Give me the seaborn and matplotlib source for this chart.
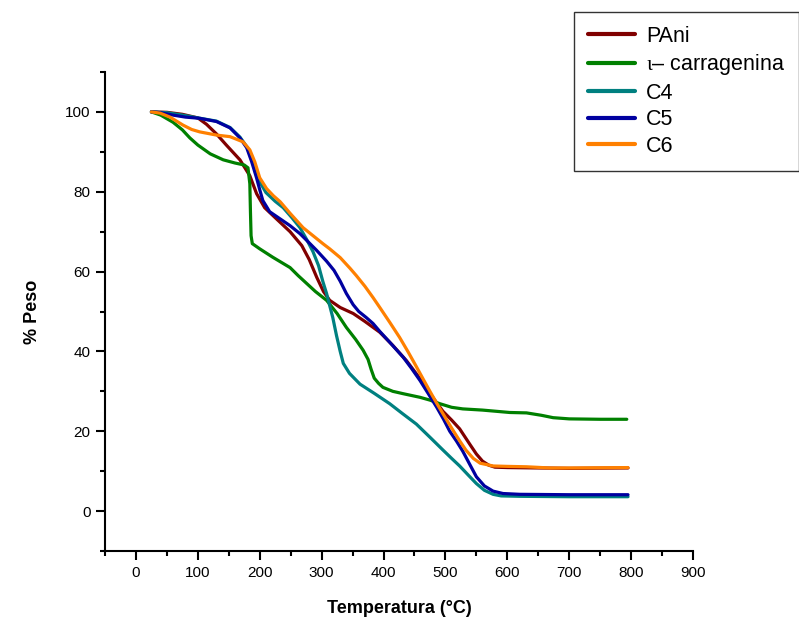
import numpy as np
import pandas as pd
import matplotlib
matplotlib.use("Agg")
import matplotlib.pyplot as plt
from matplotlib.ticker import MultipleLocator
import seaborn as sns

# Thermogravimetric curves: temperature (°C) vs remaining weight (%)
pani_t = [25, 50, 75, 100, 114, 130, 146, 168, 184, 195, 208, 225, 249, 268, 280, 292,
          303, 313, 330, 351, 370, 394, 415, 437, 455, 470, 496, 510, 523, 540, 550, 560,
          570, 580, 600, 650, 700, 795]
pani_w = [100, 99.9, 99.4, 98.5, 96.9, 94.5, 91.7, 88, 84, 79.5, 76, 73.5, 70, 66.5, 63, 58.6,
          55, 52.8, 51, 49.5, 47.5, 44.8, 41.5, 37.7, 34, 30.5, 25, 22.8, 20.6, 16.6, 14.3, 12.5,
          11.5, 11.0, 10.9, 10.8, 10.7, 10.8]

carr_t = [25, 40, 60, 75, 87, 100, 120, 141, 160, 175, 181, 184, 185, 186, 188, 200, 221,
          249, 262, 276, 290, 308, 325, 340, 355, 367, 375, 380, 385, 392, 399, 415, 432,
          459, 475, 491, 510, 528, 560, 604, 631, 655, 674, 700, 750, 793]
carr_w = [100, 99.2, 97.4, 95.5, 93.5, 91.7, 89.5, 88, 87.2, 86.7, 86, 82, 75, 69, 67, 65.7, 63.6,
          61, 59, 57, 55, 52.8, 49.5, 46, 43, 40.3, 38, 35.5, 33.3, 32, 31, 30, 29.4,
          28.5, 27.8, 26.9, 26, 25.6, 25.3, 24.7, 24.6, 24, 23.4, 23.1, 23, 23.0]

c4_t = [25, 50, 75, 100, 130, 152, 168, 179, 187, 195, 200, 210, 225, 238, 252, 265, 276,
        286, 295, 302, 308, 313, 318, 324, 330, 335, 345, 362, 385, 410, 430, 453, 475,
        496, 510, 523, 537, 550, 563, 577, 590, 620, 700, 795]
c4_w = [100, 99.8, 99.2, 98.5, 97.7, 96.1, 93.7, 91.3, 88.3, 84.8, 82.5, 79.8, 77.6, 76, 73.5, 71, 68,
        65, 61.5, 57.5, 54.5, 51.5, 48.5, 44, 40, 37, 34.5, 31.8, 29.5, 26.9, 24.5, 21.8, 18.5,
        15.3, 13.2, 11.3, 9, 6.9, 5.2, 4.2, 3.8, 3.7, 3.6, 3.6]

c5_t = [25, 40, 60, 80, 103, 130, 152, 168, 179, 187, 195, 200, 205, 216, 232, 249, 265,
        276, 292, 308, 320, 330, 340, 351, 360, 372, 383, 394, 410, 432, 445, 459, 472,
        486, 497, 507, 518, 528, 540, 550, 563, 577, 593, 620, 700, 795]
c5_w = [100, 99.8, 99.2, 98.7, 98.4, 97.6, 96, 93.5, 91, 87.5, 83.4, 80.5, 77.8, 75, 73.3, 71.5, 69.5,
        67.8, 65.3, 62.6, 60.3, 57.6, 54.5, 51.7, 50, 48.5, 47, 45, 42.3, 38.5, 35.8, 32.7, 29.5,
        26, 23, 20, 17.5, 15, 11.5, 8.6, 6.3, 5, 4.4, 4.2, 4.1, 4.1]

c6_t = [25, 39, 55, 76, 90, 103, 130, 152, 173, 184, 192, 200, 211, 222, 233, 249, 270,
        290, 302, 313, 330, 346, 356, 370, 383, 394, 410, 426, 440, 453, 465, 475, 486,
        496, 510, 523, 533, 545, 556, 577, 600, 631, 669, 700, 795]
c6_w = [100, 99.7, 98.7, 96.7, 95.6, 95, 94.2, 93.8, 92.5, 90.5, 87.5, 83.5, 80.8, 79, 77.5, 74.6, 71,
        68.5, 67, 65.7, 63.5, 60.8, 59, 56.3, 53.5, 51, 47.3, 43.5, 39.8, 36.2, 32.8, 30, 27,
        24.4, 20.8, 17.6, 15.3, 13.2, 12, 11.3, 11.2, 11.1, 10.8, 10.8, 10.9]

labels = ["PAni", r"$\mathrm{\iota}$– carragenina", "C4", "C5", "C6"]
colors = ["#800000", "#008000", "#008080", "#0000A0", "#FF8000"]

series = [(pani_t, pani_w), (carr_t, carr_w), (c4_t, c4_w), (c5_t, c5_w), (c6_t, c6_w)]
frames = []
for lab, (t, w) in zip(labels, series):
    frames.append(pd.DataFrame({"Temperatura": t, "Peso": w, "Muestra": lab}))
df = pd.concat(frames, ignore_index=True)

sns.set_theme(style="ticks")
plt.rcParams["font.family"] = ["Liberation Sans", "DejaVu Sans"]
plt.rcParams["mathtext.fontset"] = "custom"
plt.rcParams["mathtext.rm"] = "Liberation Serif"
plt.rcParams["mathtext.it"] = "Liberation Serif:italic"
plt.rcParams["mathtext.bf"] = "Liberation Serif:bold"

fig = plt.figure(figsize=(7.99, 6.21), dpi=100)
ax = fig.add_axes([105 / 799, 1 - 551 / 621, (693 - 105) / 799, (551 - 72) / 621])

sns.lineplot(data=df, x="Temperatura", y="Peso", hue="Muestra", hue_order=labels,
             palette=colors, linewidth=2.3, sort=False, estimator=None, ax=ax)

ax.set_xlim(-50, 900)
ax.set_ylim(-10, 110)
ax.xaxis.set_major_locator(MultipleLocator(100))
ax.xaxis.set_minor_locator(MultipleLocator(50))
ax.set_yticks([0, 20, 40, 60, 80, 100])
ax.set_yticks(np.arange(-10, 111, 20), minor=True)

for side in ("top", "right"):
    ax.spines[side].set_visible(False)
for side in ("left", "bottom"):
    ax.spines[side].set_linewidth(1.5)
    ax.spines[side].set_color("black")

ax.tick_params(axis="both", which="major", length=6.5, width=1.5, color="black",
               labelsize=11, pad=4, labelcolor="black")
ax.tick_params(axis="both", which="minor", length=3.5, width=1.5, color="black")

ax.set_xlabel("Temperatura (°C)", fontsize=13, fontweight="bold", labelpad=15, color="black")
ax.set_ylabel("% Peso", fontsize=13, fontweight="bold", labelpad=17, color="black")

handles, _ = ax.get_legend_handles_labels()
ax.get_legend().remove()
for h in handles:
    h.set_linewidth(3)
leg = fig.legend(handles, labels, loc="upper left", bbox_to_anchor=(574 / 799, 1 - 12 / 621),
                 fontsize=15.5, frameon=True, fancybox=False, edgecolor="black",
                 handlelength=2.2, handletextpad=0.5, labelspacing=0.25, borderpad=0.65,
                 borderaxespad=0)
leg.get_frame().set_linewidth(1.0)
for txt in leg.get_texts():
    txt.set_color("black")

fig.savefig("out.png", dpi=100, facecolor="white")
